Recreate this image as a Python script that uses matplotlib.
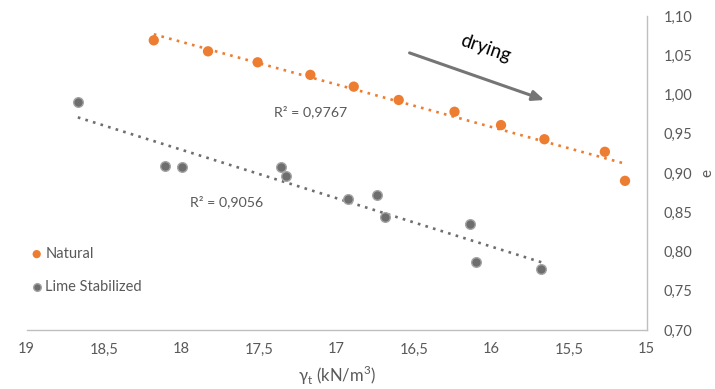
import numpy as np
import matplotlib.pyplot as plt
from matplotlib.ticker import FuncFormatter, MultipleLocator

plt.rcParams['font.family'] = ['Lato', 'DejaVu Sans']

# Unit weight (kN/m3) and void ratio for each sample set
natural_gamma = [18.18, 17.83, 17.51, 17.17, 16.89, 16.60, 16.24, 15.94, 15.66, 15.27, 15.14]
natural_e = [1.069, 1.055, 1.041, 1.025, 1.010, 0.993, 0.978, 0.961, 0.943, 0.927, 0.890]

lime_gamma = [18.67, 18.11, 18.00, 17.36, 17.33, 16.93, 16.74, 16.69, 16.14, 16.10, 15.68]
lime_e = [0.990, 0.909, 0.907, 0.907, 0.896, 0.867, 0.872, 0.844, 0.835, 0.787, 0.778]

r2_labels = ["R² = 0,9767", "R² = 0,9056"]

orange = '#ED7D31'
gray = '#6E6E6E'
text_gray = '#595959'
axis_gray = '#BFBFBF'

fig = plt.figure(figsize=(7.15, 3.89), dpi=100)
ax = fig.add_axes([0.0373, 0.1517, 0.8672, 0.8072])

# Linear trendlines over each data range
for xs, ys, col in [(natural_gamma, natural_e, orange), (lime_gamma, lime_e, gray)]:
    xs = np.asarray(xs)
    k, b = np.polyfit(xs, ys, 1)
    xl = np.array([xs.max(), xs.min()])
    ax.plot(xl, k * xl + b, linestyle=(0, (1, 2.0)), color=col, lw=1.9, zorder=2)

ax.scatter(natural_gamma, natural_e, s=55, color=orange, edgecolors='none',
           label='Natural', zorder=3)
ax.scatter(lime_gamma, lime_e, s=48, color=gray, edgecolors='#A5A5A5',
           linewidths=1.0, label='Lime Stabilized', zorder=3)

ax.set_xlim(19, 15)
ax.set_ylim(0.70, 1.10)
ax.xaxis.set_major_locator(MultipleLocator(0.5))
ax.yaxis.set_major_locator(MultipleLocator(0.05))

def comma_x(v, pos):
    s = f'{v:.1f}'
    if s.endswith('.0'):
        s = s[:-2]
    return s.replace('.', ',')

ax.xaxis.set_major_formatter(FuncFormatter(comma_x))
ax.yaxis.set_major_formatter(FuncFormatter(lambda v, p: f'{v:.2f}'.replace('.', ',')))

ax.yaxis.tick_right()
ax.yaxis.set_label_position('right')
ax.tick_params(axis='both', length=0, labelsize=10.5, labelcolor=text_gray)
ax.tick_params(axis='x', pad=9)
ax.tick_params(axis='y', pad=12)

for side in ['top', 'left']:
    ax.spines[side].set_visible(False)
for side in ['bottom', 'right']:
    ax.spines[side].set_color(axis_gray)
    ax.spines[side].set_linewidth(1.0)

ax.set_xlabel(r'γ$_\mathregular{t}$ (kN/m$^\mathregular{3}$)', fontsize=12,
              color=text_gray, labelpad=5)
ax.set_ylabel('e', fontsize=11, color=text_gray, labelpad=6)

ax.text(17.17, 0.978, r2_labels[0], fontsize=10.2, color=text_gray,
        ha='center', va='center')
ax.text(17.71, 0.863, r2_labels[1], fontsize=10.2, color=text_gray,
        ha='center', va='center')

# Drying direction arrow
ax.annotate('', xy=(15.66, 0.993), xytext=(16.53, 1.053),
            arrowprops=dict(arrowstyle='-|>,head_length=0.7,head_width=0.3',
                            color='#757575', lw=2.2, shrinkA=0, shrinkB=0))
ax.text(16.04, 1.059, 'drying', fontsize=13.5, color='black', rotation=-19,
        ha='center', va='center')

leg = ax.legend(loc='upper left', bbox_to_anchor=(-0.005, 0.283), frameon=False,
                fontsize=10.5, handletextpad=0.1, labelspacing=1.3,
                handlelength=1.0, borderaxespad=0, markerscale=0.8)
for t in leg.get_texts():
    t.set_color(text_gray)

fig.savefig('out.png', dpi=100)
